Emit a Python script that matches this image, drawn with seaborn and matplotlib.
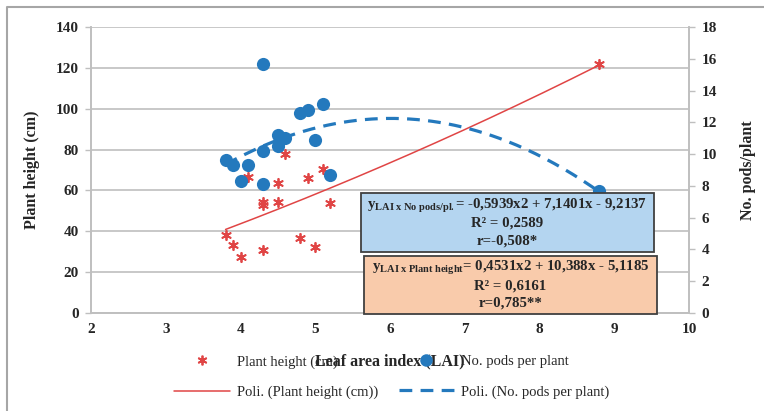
import numpy as np
import pandas as pd
import matplotlib
matplotlib.use("Agg")
import matplotlib.pyplot as plt
import seaborn as sns
from matplotlib.lines import Line2D

# leaf area index vs plant height (left axis)
lai_h = [3.8, 3.9, 4.0, 4.1, 4.3, 4.3, 4.3, 4.5, 4.5, 4.6, 4.8, 4.9, 5.0, 5.1, 5.2, 8.8]
height = [38, 33.5, 27.5, 66.5, 54.5, 53, 31, 63.5, 54.5, 78, 36.5, 66, 32.5, 70.5, 54, 122]

# leaf area index vs pods per plant (right axis)
lai_p = [3.8, 3.9, 4.0, 4.1, 4.3, 4.3, 4.3, 4.5, 4.5, 4.6, 4.8, 4.9, 5.0, 5.1, 5.2, 8.8]
pods = [9.6, 9.3, 8.3, 9.3, 15.7, 10.2, 8.1, 11.2, 10.5, 11.0, 12.6, 12.8, 10.9, 13.15, 8.7, 7.7]

# polynomial trend coefficients as printed on the chart (a x^2 + b x + c)
coef_h = [0.4531, 10.388, -5.1185]
coef_p = [-0.5939, 7.1401, -9.2137]

RED = "#e04545"
BLUE = "#2479bd"
GRID = "#bfbfbf"
SERIF = "Liberation Serif"

sns.set_theme(style="white")
plt.rcParams["font.family"] = [SERIF, "DejaVu Serif"]
plt.rcParams["mathtext.fontset"] = "custom"
plt.rcParams["mathtext.rm"] = SERIF
plt.rcParams["mathtext.bf"] = SERIF + ":bold"
plt.rcParams["mathtext.it"] = SERIF + ":italic"

df_h = pd.DataFrame({"lai": lai_h, "height": height})
df_p = pd.DataFrame({"lai": lai_p, "pods": pods})

xs = np.linspace(min(lai_h), max(lai_h), 200)
trend = pd.DataFrame({"lai": xs,
                      "height": np.polyval(coef_h, xs),
                      "pods": np.polyval(coef_p, xs)})

fig = plt.figure(figsize=(7.64, 4.11), dpi=100)
ax = fig.add_axes([91 / 764, 1 - 313 / 411, 598 / 764, 286 / 411])
ax2 = ax.twinx()

sns.scatterplot(data=df_h, x="lai", y="height", ax=ax, marker=(6, 2, 0), s=45,
                color=RED, linewidth=1.3, edgecolor=RED, zorder=4, legend=False)
sns.lineplot(data=trend, x="lai", y="height", ax=ax, color=RED, linewidth=1.1, zorder=3)

sns.scatterplot(data=df_p, x="lai", y="pods", ax=ax2, marker="o", s=90,
                color=BLUE, linewidth=0, zorder=4, legend=False)
sns.lineplot(data=trend, x="lai", y="pods", ax=ax2, color=BLUE, linewidth=2.3,
             dashes=False, zorder=3).lines[-1].set_dashes((4, 2.6))

ax.set_xlim(2, 10)
ax.set_ylim(0, 140)
ax2.set_ylim(0, 18)
ax.set_xticks(range(2, 11))
ax.set_yticks(range(0, 141, 20))
ax2.set_yticks(range(0, 19, 2))
ax.yaxis.grid(True, color=GRID, linewidth=1.2)
ax.set_axisbelow(True)

for a in (ax, ax2):
    for side, sp in a.spines.items():
        sp.set_color(GRID)
        sp.set_linewidth(1.2)
    a.spines["top"].set_visible(False)
    a.tick_params(axis="both", length=4, width=1, color=GRID, direction="out",
                  labelsize=11, pad=5)
    for lab in a.get_xticklabels() + a.get_yticklabels():
        lab.set_fontweight("bold")
ax.tick_params(axis="x", pad=3)

ax.set_xlabel("Leaf area index (LAI)", fontsize=11.5, fontweight="bold", labelpad=13)
ax.set_ylabel("Plant height (cm)", fontsize=11.5, fontweight="bold", labelpad=11)
ax2.set_ylabel("No. pods/plant", fontsize=11.5, fontweight="bold", labelpad=17)

# equation boxes
boxes = [
    ((361, 193, 654, 252), "#b4d5f0",
     [r"$\mathbf{y}_{\mathbf{LAI\ x\ No\ pods/pl.}}$= -0,5939x2 + 7,1401x - 9,2137",
      "R² = 0,2589", "r=-0,508*"], [206, 223, 241]),
    ((364, 256, 657, 314), "#f9cbab",
     [r"$\mathbf{y}_{\mathbf{LAI\ x\ Plant\ height}}$= 0,4531x2 + 10,388x - 5,1185",
      "R² = 0,6161", "r=0,785**"], [268, 286, 303]),
]
for (x0, y0, x1, y1), col, lines, ys in boxes:
    fig.patches.append(plt.Rectangle((x0 / 764, 1 - y1 / 411), (x1 - x0) / 764,
                                     (y1 - y0) / 411, transform=fig.transFigure,
                                     facecolor=col, edgecolor="#404040",
                                     linewidth=1.3, zorder=5))
    for txt, yy in zip(lines, ys):
        fig.text((x0 + x1) / 2 / 764, 1 - yy / 411, txt, ha="center", va="center",
                 fontsize=10.7, fontweight="bold", zorder=6)

handles = [
    Line2D([], [], linestyle="none", marker=(6, 2, 0), markersize=7,
           markeredgecolor=RED, markeredgewidth=1.3, color=RED),
    Line2D([], [], color=RED, linewidth=1.1),
    Line2D([], [], linestyle="none", marker="o", markersize=9, color=BLUE,
           markeredgewidth=0),
    Line2D([], [], color=BLUE, linewidth=2.3, dashes=(4, 2.6)),
]
labels = ["Plant height (cm)", "Poli. (Plant height (cm))",
          "No. pods per plant", "Poli. (No. pods per plant)"]
fig.legend(handles, labels, ncol=2, loc="center", bbox_to_anchor=(392 / 764, 1 - 377 / 411),
           frameon=False, fontsize=10.5, handlelength=3.8, handletextpad=0.5,
           columnspacing=1.4, labelspacing=1.15)

# outer frame (left and top edges only)
fig.add_artist(Line2D([6.5 / 764, 6.5 / 764, 1], [0, 1 - 7 / 411, 1 - 7 / 411],
                      transform=fig.transFigure, color="#a6a6a6", linewidth=1.5))

fig.savefig("out.png", dpi=100)
